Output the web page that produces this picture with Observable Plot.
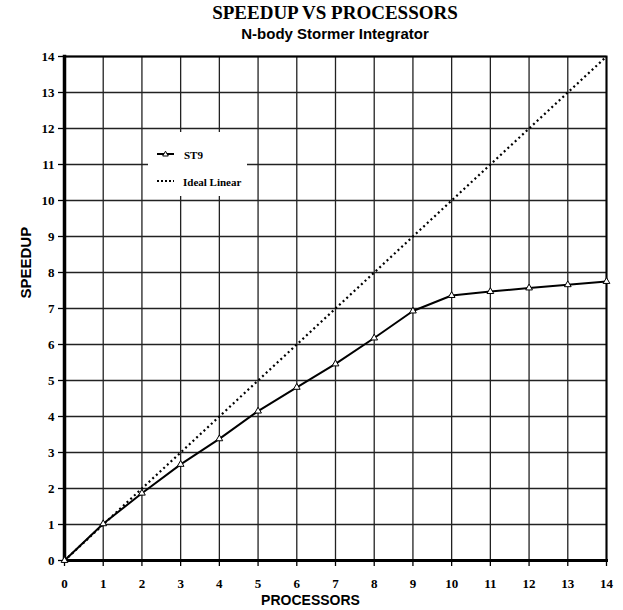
<!DOCTYPE html>
<html><head><meta charset="utf-8">
<script src="https://cdn.jsdelivr.net/npm/d3@7"></script>
<script src="https://cdn.jsdelivr.net/npm/@observablehq/plot@0.6"></script>
<style>
body{margin:0;background:#fff;}
#wrap{position:relative;width:623px;height:610px;overflow:hidden;}
.t{position:absolute;left:64px;width:542px;text-align:center;white-space:nowrap;color:#000;}
#title{top:3px;font:bold 19px/19px "Liberation Serif",serif;}
#subtitle{top:26px;font:bold 15px/15px "Liberation Sans",sans-serif;}
#chart{position:absolute;left:0;top:48px;}
#legend{position:absolute;left:148px;top:132px;width:99px;height:64px;background:#fff;}
</style></head>
<body>
<div id="wrap">
  <div class="t" id="title"></div>
  <div class="t" id="subtitle"></div>
  <div id="chart"></div>
  <div id="legend"></div>
</div>
<script>
const titleText = "SPEEDUP VS PROCESSORS";
const subtitleText = "N-body Stormer Integrator";
const xLabel = "PROCESSORS";
const yLabel = "SPEEDUP";
const seriesNames = ["ST9", "Ideal Linear"];
const processors = [0,1,2,3,4,5,6,7,8,9,10,11,12,13,14];
const st9 = [0, 1.02, 1.87, 2.67, 3.38, 4.15, 4.81, 5.46, 6.18, 6.93, 7.36, 7.47, 7.57, 7.66, 7.75];
const idealLinear = [0,1,2,3,4,5,6,7,8,9,10,11,12,13,14];
const xTicks = [0,1,2,3,4,5,6,7,8,9,10,11,12,13,14];
const yTicks = [0,1,2,3,4,5,6,7,8,9,10,11,12,13,14];

document.getElementById("title").textContent = titleText;
document.getElementById("subtitle").textContent = subtitleText;

const stData = processors.map((p, i) => ({p, s: st9[i]}));
const idData = processors.map((p, i) => ({p, s: idealLinear[i]}));

const serif = "Liberation Serif, serif";
const sans = "Liberation Sans, sans-serif";

const chart = Plot.plot({
  width: 623,
  height: 562,
  marginTop: 8,
  marginRight: 17,
  marginBottom: 50,
  marginLeft: 64,
  style: {fontFamily: serif, fontWeight: "bold", fontSize: "13px", color: "#000", background: "#fff"},
  x: {domain: [0, 14]},
  y: {domain: [0, 14]},
  marks: [
    Plot.gridX(xTicks, {stroke: "#222", strokeOpacity: 1, strokeWidth: 1.3}),
    Plot.gridY(yTicks, {stroke: "#222", strokeOpacity: 1, strokeWidth: 1.3}),
    Plot.axisX({ticks: xTicks, tickSize: 6, tickPadding: 12, strokeWidth: 1.3, label: null, fontSize: 13, fontWeight: "bold", fontFamily: serif}),
    Plot.axisY({ticks: yTicks, tickSize: 6, tickPadding: 4, strokeWidth: 1.3, label: null, fontSize: 13, fontWeight: "bold", fontFamily: serif}),
    Plot.frame({stroke: "#000", strokeWidth: 2}),
    Plot.frame({anchor: "left", stroke: "#000", strokeWidth: 3.5}),
    Plot.frame({anchor: "bottom", stroke: "#000", strokeWidth: 3}),
    Plot.line(idData, {x: "p", y: "s", stroke: "#000", strokeWidth: 2.2, strokeDasharray: "2,3", strokeLinecap: "butt"}),
    Plot.line(stData, {x: "p", y: "s", stroke: "#000", strokeWidth: 2}),
    Plot.dot(stData, {x: "p", y: "s", symbol: "triangle", r: 2.5, fill: "#fff", stroke: "#000", strokeWidth: 1}),
    Plot.text([xLabel], {frameAnchor: "bottom", dx: -25, dy: 44.5, fontFamily: sans, fontWeight: "bold", fontSize: 14}),
    Plot.text([yLabel], {frameAnchor: "left", rotate: -90, dx: -38, dy: -10, fontFamily: sans, fontWeight: "bold", fontSize: 15})
  ]
});
document.getElementById("chart").appendChild(chart);

const lg = `<svg width="99" height="64" xmlns="http://www.w3.org/2000/svg" style="display:block">
  <line x1="9" x2="26" y1="22" y2="22" stroke="#000" stroke-width="2"/>
  <path d="M17.5,19.2 L20.3,24 L14.7,24 Z" fill="#fff" stroke="#000" stroke-width="1"/>
  <text x="36" y="27" font-family="Liberation Serif, serif" font-weight="bold" font-size="11">${seriesNames[0]}</text>
  <line x1="9" x2="26" y1="49" y2="49" stroke="#000" stroke-width="2" stroke-dasharray="2,2"/>
  <text x="35" y="54" font-family="Liberation Serif, serif" font-weight="bold" font-size="11">${seriesNames[1]}</text>
</svg>`;
document.getElementById("legend").innerHTML = lg;
</script>
</body></html>
